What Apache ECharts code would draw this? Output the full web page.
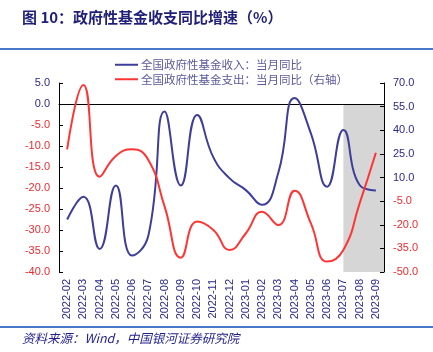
<!DOCTYPE html>
<html>
<head>
<meta charset="utf-8">
<script src="https://cdn.jsdelivr.net/npm/echarts@6/dist/echarts.min.js"></script>
<style>
html,body{margin:0;padding:0;background:#fff;}
#chart{width:433px;height:352px;}
</style>
</head>
<body>
<div id="chart"></div>
<script>
var months=['2022-02','2022-03','2022-04','2022-05','2022-06','2022-07','2022-08','2022-09','2022-10','2022-11',
    '2022-12','2023-01','2023-02','2023-03','2023-04','2023-05','2023-06','2023-07','2023-08','2023-09'];
// 收入：左轴
var income=[-27.5,-22.1,-34.5,-19.4,-36.1,-31.3,-1.8,-19.4,-2.6,-12.7,
    -17.7,-20.5,-24.0,-16.3,1.4,-7.0,-19.7,-6.2,-19.3,-20.6];
// 支出：右轴
var expend=[27.9,68.7,10.5,23.7,27.9,21.1,-8.5,-40.9,-18.0,-23.3,
    -36.0,-25.4,-11.7,-20.2,1.6,-19.1,-43.4,-36.0,-6.4,25.7];
var shadeFrom='2023-07';

var BLUE='#2a2a8a', RED='#ee2a30';
var contener=document.getElementById('chart');
var myChart=echarts.init(contener);
var labelFont={fontFamily:'Liberation Sans',fontSize:11};

var option={
    animation:false,
    grid:{left:59,right:49,top:83,bottom:80},
    legend:{
        orient:'vertical',
        left:115,top:59,
        padding:0,
        itemGap:3,
        itemWidth:23,itemHeight:2,
        icon:'rect',
        textStyle:{color:'#5a5a9c',fontSize:11.5,fontFamily:'Noto Sans CJK SC',padding:[0,0,0,-2]},
        data:['全国政府性基金收入：当月同比','全国政府性基金支出：当月同比（右轴）']
    },
    xAxis:[{
        type:'category',
        data:months,
        axisLine:{onZero:true,onZeroAxisIndex:0,lineStyle:{color:'#000',width:1}},
        axisTick:{inside:true,length:4,lineStyle:{color:'#000'}},
        axisLabel:{show:false}
    },{
        type:'category',
        data:months,
        position:'bottom',
        axisLine:{show:false,onZero:false},
        axisTick:{show:false},
        axisLabel:Object.assign({rotate:90,color:BLUE,margin:7,interval:0},labelFont)
    }],
    yAxis:[{
        type:'value',
        min:-40,max:5,interval:5,
        splitLine:{show:false},
        axisLine:{show:true,lineStyle:{color:'#000'}},
        axisTick:{show:true,inside:true,length:4,lineStyle:{color:'#000'}},
        axisLabel:Object.assign({
            margin:9,
            formatter:function(v){return v.toFixed(1);},
            color:function(v){return Number(v)>=0?BLUE:RED;}
        },labelFont)
    },{
        type:'value',
        position:'right',
        min:-50,max:70,interval:15,
        splitLine:{show:false},
        axisLine:{show:true,lineStyle:{color:'#000'}},
        axisTick:{show:true,inside:true,length:4,lineStyle:{color:'#000'}},
        axisLabel:Object.assign({
            margin:9,
            formatter:function(v){return v.toFixed(1);},
            color:function(v){return Number(v)>=0?BLUE:RED;}
        },labelFont)
    }],
    series:[{
        name:'全国政府性基金收入：当月同比',
        type:'line',
        smooth:0.5,
        showSymbol:false,
        xAxisIndex:0,yAxisIndex:0,
        itemStyle:{color:'#3d3d9a'},
        lineStyle:{color:'#3d3d9a',width:2},
        data:income,
        z:3
    },{
        name:'全国政府性基金支出：当月同比（右轴）',
        type:'line',
        smooth:0.5,
        showSymbol:false,
        xAxisIndex:0,yAxisIndex:1,
        itemStyle:{color:'#ff3535'},
        lineStyle:{color:'#ff3535',width:2},
        data:expend,
        z:3
    }]
};
myChart.setOption(option);

// 阴影区和标题、来源
var x1=myChart.convertToPixel({xAxisIndex:0},shadeFrom);
var y0=myChart.convertToPixel({yAxisIndex:0},0);
var y1=myChart.convertToPixel({yAxisIndex:0},-40);
var x2=433-49;
myChart.setOption({
    graphic:[
        {type:'rect',z:-1,shape:{x:x1,y:y0,width:x2-x1,height:y1-y0},style:{fill:'#d6d6d6'}},
        {type:'text',left:22,top:10,style:{text:'图 10：政府性基金收支同比增速（%）',fill:'#1f1f78',
            font:'bold 15px "Noto Sans CJK SC"'}},
        {type:'rect',shape:{x:0,y:48,width:433,height:2},style:{fill:'#4a78c8'}},
        {type:'rect',shape:{x:0,y:326,width:433,height:2},style:{fill:'#4a78c8'}},
        {type:'text',left:22,top:332,style:{text:'资料来源：Wind，中国银河证券研究院',fill:'#1f1f8c',
            font:'italic 12.5px "Noto Sans CJK SC"'}}
    ]
});
</script>
</body>
</html>
